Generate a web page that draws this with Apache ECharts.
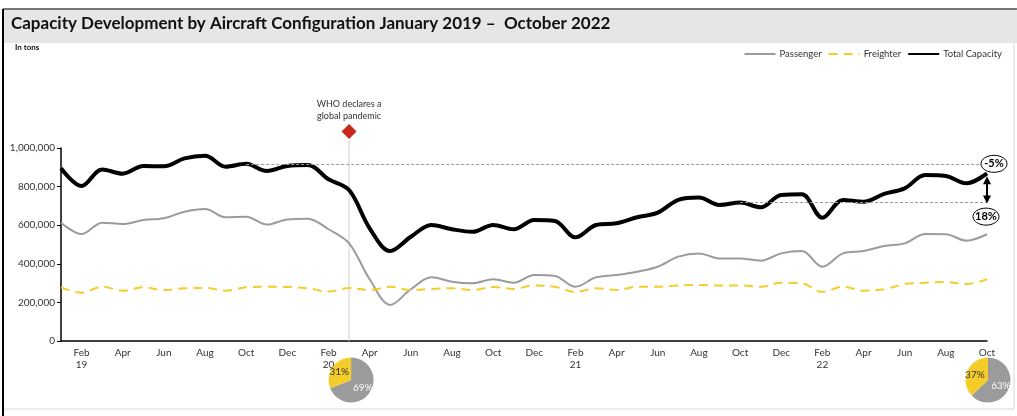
<!DOCTYPE html>
<html>
<head>
<meta charset="utf-8">
<script src="https://cdn.jsdelivr.net/npm/echarts@6/dist/echarts.min.js"></script>
<style>
  html, body { margin: 0; padding: 0; background: #fff; }
  #chart { width: 1017px; height: 416px; }
</style>
</head>
<body>
<div id="chart"></div>
<script>
// Monthly categories, January 2019 to October 2022
const months = [
  'Jan 19','Feb 19','Mar 19','Apr 19','May 19','Jun 19','Jul 19','Aug 19','Sep 19','Oct 19','Nov 19','Dec 19',
  'Jan 20','Feb 20','Mar 20','Apr 20','May 20','Jun 20','Jul 20','Aug 20','Sep 20','Oct 20','Nov 20','Dec 20',
  'Jan 21','Feb 21','Mar 21','Apr 21','May 21','Jun 21','Jul 21','Aug 21','Sep 21','Oct 21','Nov 21','Dec 21',
  'Jan 22','Feb 22','Mar 22','Apr 22','May 22','Jun 22','Jul 22','Aug 22','Sep 22','Oct 22'
];

// Capacity in tons
const passenger = [
  613000,554000,613000,606000,627000,636000,670000,684000,641000,644000,603000,630000,
  634000,579000,506000,320000,187000,268000,330000,307000,299000,320000,302000,342000,
  337000,281000,330000,342000,359000,385000,437000,454000,428000,428000,416000,454000,
  466000,385000,454000,466000,492000,506000,554000,553000,520000,553000
];
const freighter = [
  278000,250000,281000,261000,278000,264000,273000,275000,261000,278000,281000,280000,
  273000,256000,275000,264000,281000,264000,270000,273000,264000,280000,270000,288000,
  281000,254000,273000,264000,281000,281000,288000,290000,287000,288000,281000,302000,
  299000,254000,281000,261000,268000,295000,302000,306000,295000,320000
];
const totalCapacity = [
  895000,803000,889000,867000,907000,905000,946000,960000,903000,918000,881000,907000,
  912000,838000,782000,584000,466000,540000,601000,579000,566000,601000,579000,627000,
  622000,537000,601000,610000,641000,665000,731000,743000,705000,717000,693000,756000,
  760000,639000,731000,722000,762000,791000,860000,855000,817000,869000
];

// Y axis ticks
const yTicks = { min: 0, max: 1000000, interval: 200000 };

// Configuration shares (percent) at the pandemic declaration and the latest month
const shareMar20 = { month: 'Mar 20', passenger: 69, freighter: 31 };
const shareOct22 = { month: 'Oct 22', passenger: 63, freighter: 37 };

// Reference comparisons drawn at the right end
const compareFrom2019 = { from: 'Oct 19', to: 'Oct 22', label: '-5%' };
const compareFrom2021 = { from: 'Oct 21', to: 'Oct 22', label: '18%' };
const eventMonth = 'Mar 20';
const eventText = 'WHO declares a\nglobal pandemic';

const FONT = 'Lato, "Noto Sans", sans-serif';
const GREY = '#9b9b9b';
const YELLOW = '#f4cd2a';

const chart = echarts.init(document.getElementById('chart'), null, { renderer: 'canvas' });

function monthLabel(v) {
  const [m, y] = v.split(' ');
  return m === 'Feb' ? m + '\n' + y : m;
}

const option = {
  animation: false,
  backgroundColor: '#fff',
  textStyle: { fontFamily: FONT },
  grid: { left: 61, right: 30, top: 148, bottom: 75 },
  legend: {
    top: 44, right: 10,
    itemWidth: 31, itemHeight: 10, itemGap: 6,
    itemStyle: { opacity: 0 },
    textStyle: { fontFamily: FONT, fontSize: 9.5, color: '#333', padding: [0, 0, 0, -1] },
    data: ['Passenger', 'Freighter', 'Total Capacity']
  },
  xAxis: {
    type: 'category',
    data: months,
    boundaryGap: false,
    axisLine: { lineStyle: { color: '#000', width: 1.5 } },
    axisTick: { show: false },
    axisLabel: {
      interval: (i) => i % 2 === 1,
      formatter: monthLabel,
      fontFamily: FONT, fontSize: 10, color: '#333', margin: 6, lineHeight: 12
    },
    splitLine: { show: false }
  },
  yAxis: {
    type: 'value',
    min: yTicks.min, max: yTicks.max, interval: yTicks.interval,
    axisLine: { show: true, lineStyle: { color: '#000', width: 1.5 } },
    axisTick: { show: true, length: 4, lineStyle: { color: '#000' } },
    axisLabel: {
      fontFamily: FONT, fontSize: 10, color: '#333', margin: 6,
      formatter: (v) => v.toLocaleString('en-US')
    },
    splitLine: { show: false }
  },
  series: [
    {
      name: 'Passenger', type: 'line', data: passenger, smooth: 0.35,
      symbol: 'none', lineStyle: { color: GREY, width: 2 }, itemStyle: { color: GREY }, z: 3
    },
    {
      name: 'Freighter', type: 'line', data: freighter, smooth: 0.35,
      symbol: 'none', lineStyle: { color: YELLOW, width: 2, type: [9, 6] }, itemStyle: { color: YELLOW }, z: 3
    },
    {
      name: 'Total Capacity', type: 'line', data: totalCapacity, smooth: 0.35,
      symbol: 'none', lineStyle: { color: '#000', width: 4 }, itemStyle: { color: '#000' }, z: 4,
      markLine: {
        silent: true, symbol: 'none',
        lineStyle: { color: '#999', type: [3, 2], width: 1 },
        label: { show: false },
        data: [
          [
            { coord: [compareFrom2019.from, totalCapacity[months.indexOf(compareFrom2019.from)]] },
            { coord: [compareFrom2019.to, totalCapacity[months.indexOf(compareFrom2019.from)]] }
          ],
          [
            { coord: [compareFrom2021.from, totalCapacity[months.indexOf(compareFrom2021.from)]] },
            { coord: [compareFrom2021.to, totalCapacity[months.indexOf(compareFrom2021.from)]] }
          ]
        ]
      }
    }
  ],
  graphic: []
};

chart.setOption(option);

// Pixel anchors from the chart's own scales
const px = (m, v) => chart.convertToPixel({ gridIndex: 0 }, [months.indexOf(m), v]);
const [evX, axisY] = px(eventMonth, 0);
const [endX, endY] = px(compareFrom2019.to, totalCapacity[months.indexOf(compareFrom2019.to)]);
const lvl19 = px(compareFrom2019.to, totalCapacity[months.indexOf(compareFrom2019.from)])[1];
const lvl21 = px(compareFrom2021.to, totalCapacity[months.indexOf(compareFrom2021.from)])[1];
const octX = px(shareOct22.month, 0)[0];

function pieSeries(share, cx) {
  return {
    type: 'pie', center: [cx, axisY + 39], radius: 22.5, startAngle: 90, clockwise: true,
    silent: true, z: 10,
    label: { position: 'inside', formatter: '{c}%', fontFamily: FONT, fontSize: 10 },
    labelLine: { show: false },
    data: [
      { name: 'Passenger', value: share.passenger, itemStyle: { color: GREY }, label: { color: '#fff' } },
      { name: 'Freighter', value: share.freighter, itemStyle: { color: YELLOW }, label: { color: '#333' } }
    ]
  };
}

const arrowTop = endY + 6, arrowBot = lvl21 - 2;

chart.setOption({
  series: option.series.concat([pieSeries(shareMar20, evX + 2), pieSeries(shareOct22, octX + 1)]),
  graphic: [
    // frame and title band
    { type: 'rect', shape: { x: 3, y: 9, width: 1011, height: 400 }, style: { fill: 'none', stroke: '#d8d8d8', lineWidth: 1 }, z: 0 },
    { type: 'line', shape: { x1: 3, y1: 9, x2: 3, y2: 416 }, style: { stroke: '#000', lineWidth: 2 }, z: 1 },
    { type: 'line', shape: { x1: 3, y1: 9, x2: 1017, y2: 9 }, style: { stroke: '#000', lineWidth: 1 }, z: 1 },
    { type: 'rect', shape: { x: 4, y: 10, width: 1013, height: 33 }, style: { fill: '#e6e6e6' }, z: 0 },
    { type: 'text', left: 11, top: 15, style: {
        text: 'Capacity Development by Aircraft Configuration January 2019 \u2013  October 2022',
        font: 'bold 17px ' + FONT, fill: '#111' } },
    { type: 'text', left: 15, top: 43, style: { text: 'In tons', font: 'bold 8px ' + FONT, fill: '#111' } },
    // pandemic declaration marker
    { type: 'line', shape: { x1: evX, y1: 140, x2: evX, y2: axisY }, style: { stroke: '#d0d0d0', lineWidth: 1 }, z: 1 },
    { type: 'polygon', shape: { points: [[evX, 124], [evX + 7.5, 131.5], [evX, 139], [evX - 7.5, 131.5]] }, style: { fill: '#c8281e' }, z: 5 },
    { type: 'text', x: evX, y: 98, style: { text: eventText, font: '9px ' + FONT, fill: '#333', align: 'center', lineHeight: 12 }, z: 5 },
    // change markers at the last month
    { type: 'line', shape: { x1: endX, y1: arrowTop, x2: endX, y2: arrowBot }, style: { stroke: '#000', lineWidth: 2 }, z: 6 },
    { type: 'polygon', shape: { points: [[endX, arrowTop - 3], [endX - 4, arrowTop + 5], [endX + 4, arrowTop + 5]] }, style: { fill: '#000' }, z: 6 },
    { type: 'polygon', shape: { points: [[endX, arrowBot + 3], [endX - 4, arrowBot - 5], [endX + 4, arrowBot - 5]] }, style: { fill: '#000' }, z: 6 },
    { type: 'ellipse', shape: { cx: endX + 7, cy: lvl19, rx: 13, ry: 8.5 }, style: { fill: '#fff', stroke: '#000', lineWidth: 1 }, z: 7 },
    { type: 'text', x: endX + 7, y: lvl19, style: { text: compareFrom2019.label, font: 'bold 11px ' + FONT, fill: '#000', align: 'center', verticalAlign: 'middle' }, z: 8 },
    { type: 'ellipse', shape: { cx: endX - 1, cy: lvl21 + 14, rx: 13, ry: 8.5 }, style: { fill: '#fff', stroke: '#000', lineWidth: 1 }, z: 7 },
    { type: 'text', x: endX - 1, y: lvl21 + 14, style: { text: compareFrom2021.label, font: 'bold 11px ' + FONT, fill: '#000', align: 'center', verticalAlign: 'middle' }, z: 8 }
  ]
});
</script>
</body>
</html>
